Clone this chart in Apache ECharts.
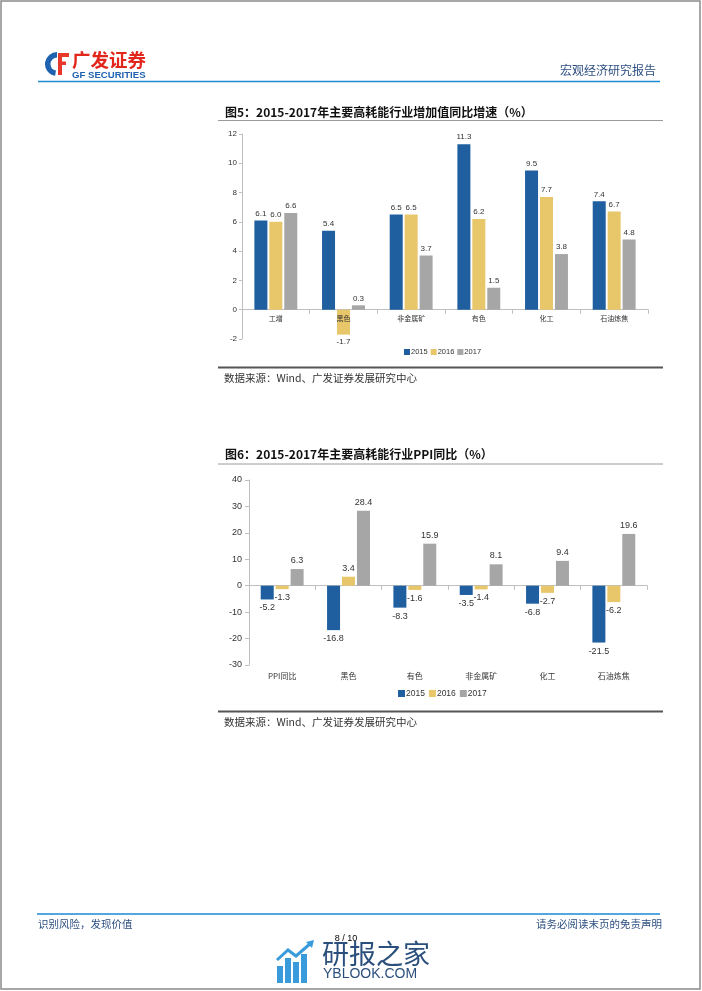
<!DOCTYPE html>
<html><head><meta charset="utf-8">
<script src="https://cdn.jsdelivr.net/npm/echarts@6/dist/echarts.min.js"></script>
<style>html,body{margin:0;padding:0;background:#fff}#c{width:702px;height:991px}</style>
</head><body><div id="c"></div>
<script>
// ---- Chart 1 data (图5) ----
const cats1 = ['工增', '黑色', '非金属矿', '有色', '化工', '石油炼焦'];
const v1_2015 = [6.1, 5.4, 6.5, 11.3, 9.5, 7.4];
const v1_2016 = [6.0, -1.7, 6.5, 6.2, 7.7, 6.7];
const v1_2017 = [6.6, 0.3, 3.7, 1.5, 3.8, 4.8];
const y1Min = -2, y1Max = 12, y1Step = 2;

// ---- Chart 2 data (图6) ----
const cats2 = ['PPI同比', '黑色', '有色', '非金属矿', '化工', '石油炼焦'];
const v2_2015 = [-5.2, -16.8, -8.3, -3.5, -6.8, -21.5];
const v2_2016 = [-1.3, 3.4, -1.6, -1.4, -2.7, -6.2];
const v2_2017 = [6.3, 28.4, 15.9, 8.1, 9.4, 19.6];
const y2Min = -30, y2Max = 40, y2Step = 10;

const years = ['2015', '2016', '2017'];

const title1 = '图5：2015-2017年主要高耗能行业增加值同比增速（%）';
const title2 = '图6：2015-2017年主要高耗能行业PPI同比（%）';
const sourceText = '数据来源：Wind、广发证券发展研究中心';

const COLORS = ['#1F5F9F', '#E8C66A', '#A6A6A6'];
const CJK = '"Noto Sans CJK SC", "Liberation Sans", sans-serif';
const ARIAL = '"Liberation Sans", Arial, sans-serif';

// layout of the two plot areas
const G1 = { left: 242, right: 54, top: 134, bottom: 652 };
const G2 = { left: 249, right: 55, top: 480, bottom: 326 };
const g1H = 991 - G1.top - G1.bottom;
const zeroOffset1 = -(0 - y1Min) / (y1Max - y1Min) * g1H;

function items(arr, fs, dist) {
  return arr.map(v => ({
    value: v,
    label: { position: v < 0 ? 'bottom' : 'top', distance: dist, fontSize: fs }
  }));
}
function barSeries(name, data, idx, xi, yi, fs, dist) {
  return {
    name: name, type: 'bar', xAxisIndex: xi, yAxisIndex: yi,
    barWidth: 13, barGap: '15%',
    itemStyle: { color: COLORS[idx] },
    label: { show: true, color: '#333', fontFamily: ARIAL, fontSize: fs,
             formatter: p => p.value.toFixed(1) },
    data: items(data, fs, dist)
  };
}

function txt(x, y, text, font, fill, align) {
  return { type: 'text', x: x, y: y, silent: true,
    style: { text: text, font: font, fill: fill,
      textAlign: align || 'left', align: align || 'left',
      textVerticalAlign: 'middle', verticalAlign: 'middle' } };
}
function ln(x1, y1, x2, y2, color, w) {
  return { type: 'line', silent: true, shape: { x1, y1, x2, y2 },
    style: { stroke: color, lineWidth: w } };
}
function rect(x, y, w, h, fill) {
  return { type: 'rect', silent: true, shape: { x, y, width: w, height: h }, style: { fill } };
}

const graphics = [
  // page border
  { type: 'rect', silent: true, shape: { x: 1, y: 1, width: 699, height: 988 },
    style: { fill: 'none', stroke: '#8a8a8a', lineWidth: 1.5 } },
  // logo
  { type: 'sector', silent: true, shape: { cx: 57, cy: 64, r: 12, r0: 6.5,
      startAngle: Math.PI * 0.55, endAngle: Math.PI * 1.5, clockwise: true },
    style: { fill: '#1F62B0' } },
  rect(58, 53, 11, 4, '#E8382A'),
  rect(58, 53, 4, 22, '#E8382A'),
  rect(58, 61.5, 8, 3.5, '#E8382A'),
  txt(72, 60, '广发证券', 'bold 18.5px ' + CJK, '#E2261C'),
  txt(72, 75, 'GF SECURITIES', 'bold 9.6px ' + ARIAL, '#1F62B0'),
  txt(656, 70, '宏观经济研究报告', '12px ' + CJK, '#2D4F80', 'right'),
  ln(38, 81.5, 660, 81.5, '#1B8AD3', 1.5),

  // chart 1 frame
  txt(225, 112, title1, 'bold 12px ' + CJK, '#111'),
  ln(218, 120.5, 663, 120.5, '#9a9a9a', 1),
  ln(218, 367.5, 663, 367.5, '#555', 2),
  txt(224, 378, sourceText, '10.5px ' + CJK, '#333'),

  // chart 2 frame
  txt(225, 454, title2, 'bold 12px ' + CJK, '#111'),
  ln(218, 464, 663, 464, '#9a9a9a', 1),
  ln(218, 711.5, 663, 711.5, '#555', 2),
  txt(224, 722, sourceText, '10.5px ' + CJK, '#333'),

  // footer
  ln(37, 914, 660, 914, '#1B8AD3', 1.5),
  txt(38, 924, '识别风险，发现价值', '10.5px ' + CJK, '#2D4F80'),
  txt(662, 924, '请务必阅读末页的免责声明', '10.5px ' + CJK, '#2D4F80', 'right'),

  // watermark
  rect(277, 966, 6, 17, '#3A9BDC'),
  rect(285, 958, 6, 25, '#3A9BDC'),
  rect(293, 962, 6, 21, '#3A9BDC'),
  rect(301, 954, 6, 29, '#3A9BDC'),
  { type: 'polyline', silent: true, shape: { points: [[277, 960], [288, 950], [296, 956], [311, 943]] },
    style: { stroke: '#3A9BDC', lineWidth: 3, fill: 'none' } },
  { type: 'polygon', silent: true, shape: { points: [[306, 942], [314, 940], [312, 948]] },
    style: { fill: '#3A9BDC' } },
  txt(322, 954, '研报之家', '27px ' + CJK, '#2B4F7C'),
  txt(323, 974, 'YBLOOK.COM', '14px ' + ARIAL, '#2B4F7C'),
  txt(346, 939, '8 / 10', '9px ' + ARIAL, '#000', 'center')
];

const axisLineStyle = { color: '#BFBFBF', width: 1 };

const option = {
  animation: false,
  backgroundColor: '#fff',
  color: COLORS,
  textStyle: { fontFamily: ARIAL },
  grid: [G1, G2],
  legend: [
    { data: years, left: 404, top: 348, padding: 0, icon: 'rect', itemWidth: 6, itemHeight: 6, itemGap: 3,
      selectedMode: false,
      textStyle: { fontSize: 7.5, color: '#333', fontFamily: ARIAL, padding: [0, 0, 0, -4] } },
    { data: years, left: 398, top: 689, padding: 0, icon: 'rect', itemWidth: 7, itemHeight: 7, itemGap: 4,
      selectedMode: false,
      textStyle: { fontSize: 8.5, color: '#333', fontFamily: ARIAL, padding: [0, 0, 0, -4] } }
  ],
  xAxis: [
    // chart 1: zero line with ticks
    { type: 'category', gridIndex: 0, data: cats1,
      axisLine: { onZero: true, lineStyle: axisLineStyle },
      axisTick: { show: true, length: 4, lineStyle: axisLineStyle },
      axisLabel: { show: false } },
    // chart 2: labels at the bottom
    { type: 'category', gridIndex: 1, data: cats2,
      axisLine: { show: false, onZero: false },
      axisTick: { show: false },
      axisLabel: { fontSize: 8, color: '#333', margin: 7, fontFamily: CJK, interval: 0 } },
    // chart 2: zero line with ticks
    { type: 'category', gridIndex: 1, data: cats2, position: 'bottom',
      axisLine: { onZero: true, lineStyle: axisLineStyle },
      axisTick: { show: true, length: 4, lineStyle: axisLineStyle },
      axisLabel: { show: false } },
    // chart 1: labels just under the zero line
    { type: 'category', gridIndex: 0, data: cats1, position: 'bottom', offset: zeroOffset1, z: 5,
      axisLine: { show: false, onZero: false },
      axisTick: { show: false },
      axisLabel: { fontSize: 7, color: '#333', margin: 5, fontFamily: CJK, interval: 0 } }
  ],
  yAxis: [
    { type: 'value', gridIndex: 0, min: y1Min, max: y1Max, interval: y1Step,
      axisLine: { show: true, lineStyle: axisLineStyle },
      axisTick: { show: true, length: 3, lineStyle: axisLineStyle },
      splitLine: { show: false },
      axisLabel: { fontSize: 8, color: '#333', margin: 5, fontFamily: ARIAL } },
    { type: 'value', gridIndex: 1, min: y2Min, max: y2Max, interval: y2Step,
      axisLine: { show: true, lineStyle: axisLineStyle },
      axisTick: { show: true, length: 4, lineStyle: axisLineStyle },
      splitLine: { show: false },
      axisLabel: { fontSize: 9, color: '#333', margin: 7, fontFamily: ARIAL } }
  ],
  series: [
    barSeries('2015', v1_2015, 0, 0, 0, 8, 3),
    barSeries('2016', v1_2016, 1, 0, 0, 8, 3),
    barSeries('2017', v1_2017, 2, 0, 0, 8, 3),
    barSeries('2015', v2_2015, 0, 1, 1, 9, 4),
    barSeries('2016', v2_2016, 1, 1, 1, 9, 4),
    barSeries('2017', v2_2017, 2, 1, 1, 9, 4)
  ],
  graphic: graphics
};

const chart = echarts.init(document.getElementById('c'), null, { renderer: 'canvas', width: 702, height: 991 });
chart.setOption(option);
</script>
</body></html>
